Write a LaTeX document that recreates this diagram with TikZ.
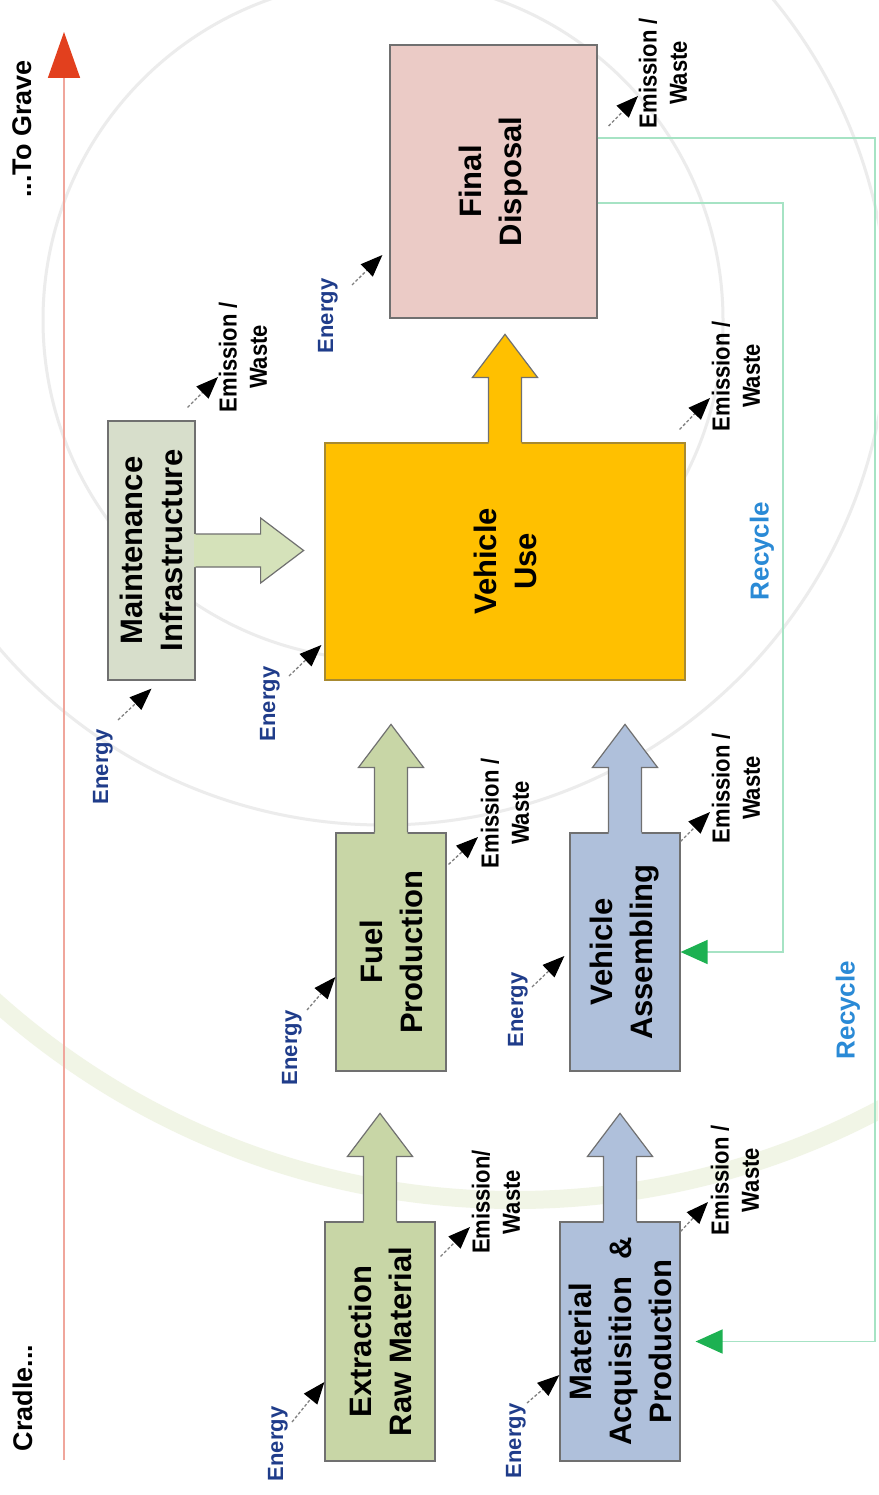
\documentclass[tikz,border=0pt]{standalone}
\usepackage{fontspec}
\setmainfont{Liberation Sans}
\usetikzlibrary{arrows.meta,calc}

\definecolor{gbox}{HTML}{C8D6A6}
\definecolor{bbox}{HTML}{AFC0DB}
\definecolor{mbox}{HTML}{D7DECB}
\definecolor{marr}{HTML}{D5E2BA}
\definecolor{ubox}{HTML}{FFC000}
\definecolor{uedge}{HTML}{A88A30}
\definecolor{fbox}{HTML}{EBCBC6}
\definecolor{edge}{HTML}{707070}
\definecolor{navy}{HTML}{1F3C8A}
\definecolor{recblue}{HTML}{2A8AD6}
\definecolor{recline}{HTML}{A6E3C4}
\definecolor{recarrow}{HTML}{1DB152}
\definecolor{tline}{HTML}{F0A69C}
\definecolor{thead}{HTML}{E2401E}
\definecolor{ringgray}{HTML}{ECECEC}
\definecolor{ringgreen}{HTML}{F1F5E6}

\begin{document}
\begin{tikzpicture}[x=1pt,y=-1pt,
  box/.style={draw=edge, line width=1.2pt, inner sep=0pt},
  boxtext/.style={rotate=90, align=center, inner sep=0pt,
    font=\fontsize{31}{40}\selectfont\bfseries},
  enlabel/.style={rotate=90, inner sep=0pt, text=navy,
    font=\fontsize{22}{26}\selectfont\bfseries},
  emlabel/.style={rotate=90, yscale=1.12, align=center, inner sep=0pt,
    font=\fontsize{22}{27}\selectfont\bfseries},
  reclabel/.style={rotate=90, inner sep=0pt, text=recblue,
    font=\fontsize{26}{30}\selectfont\bfseries},
  timelabel/.style={rotate=90, inner sep=0pt,
    font=\fontsize{27}{30}\selectfont\bfseries},
  flow/.style={draw=gray, line width=1.3pt, dash pattern=on 3pt off 2pt,
    -{Triangle[length=22pt,width=17pt,color=black]}},
  recyc/.style={draw=recline, line width=1.6pt,
    -{Triangle[length=27pt,width=24pt,color=recarrow]}},
  pics/uparr/.style={code={
    \fill[#1] (-16.5,1.5) -- (-16.5,-65) -- (-32.5,-65) -- (0,-108)
      -- (32.5,-65) -- (16.5,-65) -- (16.5,1.5) -- cycle;
    \draw[draw=edge, line width=1.2pt, line join=miter]
      (-16.5,0) -- (-16.5,-65) -- (-32.5,-65) -- (0,-108)
      -- (32.5,-65) -- (16.5,-65) -- (16.5,0);
  }}
]
\useasboundingbox (0,0) rectangle (878,1495);
\fill[white] (0,0) rectangle (878,1495);

% faint background rings
\begin{scope}
\clip (0,0) rectangle (878,1495);
\draw[ringgreen, line width=18pt] (515,421) circle[radius=779];
\draw[ringgray, line width=3pt] (383,320) circle[radius=340];
\draw[ringgray, line width=3pt] (383,320) circle[radius=505];
\end{scope}

% timeline
\coordinate (cradle) at (64,1460);
\coordinate (grave) at (64,32);
\draw[tline, line width=1.6pt,
  -{Triangle[length=46pt,width=32pt,color=thead]}] (cradle) -- (grave);
\node[timelabel] (tgrave) at (22,129) {...To Grave};
\node[timelabel] (tcradle) at (23,1398) {Cradle...};

% boxes
\node[box, fill=gbox, minimum width=110pt, minimum height=239pt] (ext) at (380,1341.5) {};
\node[box, fill=bbox, minimum width=120pt, minimum height=239pt] (mat) at (620,1341.5) {};
\node[box, fill=gbox, minimum width=110pt, minimum height=238pt] (fuel) at (391,952) {};
\node[box, fill=bbox, minimum width=110pt, minimum height=238pt] (asm) at (625,952) {};
\node[box, draw=uedge, fill=ubox, minimum width=360pt, minimum height=237pt] (use) at (505,561.5) {};
\node[box, fill=mbox, minimum width=87pt, minimum height=259pt] (mnt) at (151.5,550.5) {};
\node[box, fill=fbox, minimum width=207pt, minimum height=273pt] (fin) at (493.5,181.5) {};

% block arrows
\pic at (ext.north) {uparr=gbox};
\pic at (mat.north) {uparr=bbox};
\pic at (fuel.north) {uparr=gbox};
\pic at (asm.north) {uparr=bbox};
\pic at (use.north) {uparr=ubox};
\pic[rotate=-90] at (mnt.east) {uparr=marr};

% box texts
\node[boxtext] (extT) at (ext.center) {Extraction\\Raw Material};
\node[boxtext] (matT) at (mat.center) {Material\\Acquisition \ \&\\Production};
\node[boxtext] (fuelT) at (fuel.center) {Fuel\\Production};
\node[boxtext] (asmT) at (asm.center) {Vehicle\\Assembling};
\node[boxtext] (useT) at (use.center) {Vehicle\\Use};
\node[boxtext] (mntT) at (mnt.center) {Maintenance\\Infrastructure};
\node[boxtext] (finT) at (fin.center) {Final\\Disposal};

% recycle loops
\coordinate (r1c) at (875,138);
\coordinate (r1d) at (875,1341.5);
\coordinate (r2c) at (783,203);
\coordinate (r2d) at (783,952);
\draw[recyc] ([yshift=43.5pt]fin.east) -- (r1c) -- (r1d) -- ([xshift=15pt]mat.east);
\draw[recyc] ([yshift=-21.5pt]fin.east) -- (r2c) -- (r2d) -- (asm.east);
\node[reclabel] (rec1) at (848,1010) {Recycle};
\node[reclabel] (rec2) at (762,551) {Recycle};

% energy inputs
\node[enlabel] (eExt) at (278,1444) {Energy};
\node[enlabel] (eMat) at (516,1441) {Energy};
\node[enlabel] (eFuel) at (292,1048) {Energy};
\node[enlabel] (eAsm) at (518,1010) {Energy};
\node[enlabel] (eMnt) at (103,767) {Energy};
\node[enlabel] (eUse) at (270,704) {Energy};
\node[enlabel] (eFin) at (328,316) {Energy};
\coordinate (eExt0) at (292,1422);
\coordinate (eMat0) at (527,1403);
\coordinate (eFuel0) at (307,1010);
\coordinate (eAsm0) at (532,987);
\coordinate (eMnt0) at (118,720);
\coordinate (eUse0) at (289,676);
\coordinate (eFin0) at (352,285);
\draw[flow] (eExt0) -- ([yshift=-40.5pt]ext.west);
\draw[flow] (eMat0) -- ([yshift=-33.5pt]mat.west);
\draw[flow] (eFuel0) -- ([yshift=-25pt]fuel.west);
\draw[flow] (eAsm0) -- ([xshift=-5pt,yshift=-4pt]asm.west);
\draw[flow] (eMnt0) -- ([yshift=-8pt]mnt.south);
\draw[flow] (eUse0) -- ([xshift=-3pt,yshift=-83.5pt]use.west);
\draw[flow] (eFin0) -- ([xshift=-7pt,yshift=-73.5pt]fin.west);

% emission outputs
\node[emlabel] (wExt) at (496,1202) {Emission/\\Waste};
\node[emlabel] (wMat) at (735,1180) {Emission /\\Waste};
\node[emlabel] (wFuel) at (505,813) {Emission /\\Waste};
\node[emlabel] (wAsm) at (736,788) {Emission /\\Waste};
\node[emlabel] (wMnt) at (243,357) {Emission /\\Waste};
\node[emlabel] (wUse) at (736,376) {Emission /\\Waste};
\node[emlabel] (wFin) at (663,73) {Emission /\\Waste};
\coordinate (wExt1) at (470,1227);
\coordinate (wMat1) at (708,1202);
\coordinate (wFuel1) at (478,837);
\coordinate (wAsm1) at (710,812);
\coordinate (wMnt1) at (218,377);
\coordinate (wUse1) at (710,398);
\coordinate (wFin1) at (638,96);
\draw[flow] ([xshift=5pt,yshift=-35pt]ext.north east) -- (wExt1);
\draw[flow] ([yshift=-10pt]mat.north east) -- (wMat1);
\draw[flow] ([xshift=2pt,yshift=-32pt]fuel.north east) -- (wFuel1);
\draw[flow] ([yshift=-9pt]asm.north east) -- (wAsm1);
\draw[flow] ([xshift=-8pt,yshift=13pt]mnt.north east) -- (wMnt1);
\draw[flow] ([xshift=-6pt,yshift=13pt]use.north east) -- (wUse1);
\draw[flow] ([xshift=11pt,yshift=55.5pt]fin.east) -- (wFin1);
\end{tikzpicture}
\end{document}
